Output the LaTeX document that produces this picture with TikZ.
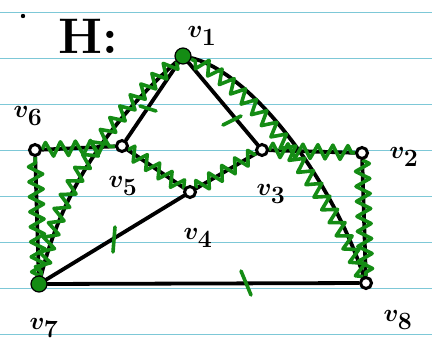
\documentclass[tikz,border=0pt]{standalone}
\usetikzlibrary{decorations.pathmorphing}
\definecolor{ruled}{RGB}{125,200,215}
\definecolor{pen}{RGB}{20,140,20}
\pgfdeclarelayer{paper}
\pgfdeclarelayer{edges}
\pgfsetlayers{paper,edges,main}
\begin{document}
\begin{tikzpicture}[x=1pt,y=-1pt,
  vtx/.style={circle,draw=black,fill=white,line width=3pt,inner sep=0pt,minimum size=11pt},
  gvtx/.style={circle,draw=black,fill=pen,line width=1.2pt,inner sep=0pt,minimum size=16pt},
  edge/.style={line width=3.8pt,black,line cap=round},
  zz/.style={draw=pen,line width=3.6pt,line join=round,decorate,decoration={zigzag,segment length=15pt,amplitude=7pt}},
  tickmark/.style={draw=pen,line width=3.6pt,line cap=round},
  lbl/.style={font=\fontsize{38}{38}\selectfont\boldmath},
  ruleline/.style={draw=ruled,line width=1.6pt}]
\useasboundingbox (0,0) rectangle (432,354);
\begin{pgfonlayer}{paper}
\fill[white] (0,0) rectangle (432,354);
\foreach \y in {12.5,58.5,104.5,150.5,196.5,242.5,288.5,334.5}
  \draw[ruleline] (0,\y) -- (432,\y);
\end{pgfonlayer}

% vertices
\node[gvtx] (v1) at (183,56) {};
\node[vtx] (v6) at (35,150) {};
\node[vtx] (v5) at (122,146) {};
\node[vtx] (v4) at (190,192) {};
\node[vtx] (v3) at (262,150) {};
\node[vtx] (v2) at (362,153) {};
\node[gvtx] (v7) at (39,284) {};
\node[vtx] (v8) at (366,283) {};

% labels
\node[lbl] (l1) at (202,36) {$v_1$};
\node[lbl] (l6) at (28,116) {$v_6$};
\node[lbl] (l5) at (123,186) {$v_5$};
\node[lbl] (l4) at (198,238) {$v_4$};
\node[lbl] (l3) at (271,194) {$v_3$};
\node[lbl] (l2) at (404,157) {$v_2$};
\node[lbl] (l7) at (44,328) {$v_7$};
\node[lbl] (l8) at (398,320) {$v_8$};
\node[font=\fontsize{50}{50}\selectfont\bfseries] (title) at (88,36) {H:};
\fill[black] (23,16) circle (2.2pt);

\begin{pgfonlayer}{edges}
% black edges
\draw[edge] (v1) .. controls (100,130) and (60,200) .. (v7);
\draw[edge] (v1) -- (v5);
\draw[edge] (v1) -- (v3);
\draw[edge] (v1) .. controls (250,72) and (330,175) .. (v8);
\draw[edge] (v6) -- (v7);
\draw[edge] (v6) -- (v5);
\draw[edge] (v5) -- (v4);
\draw[edge] (v4) -- (v3);
\draw[edge] (v3) -- (v2);
\draw[edge] (v2) -- (v8);
\draw[edge] (v7) -- (v4);
\draw[edge] (v7) -- (v8);
% green zigzags (cycle)
\draw[zz] (v1) .. controls (96,128) and (56,200) .. (v7);
\draw[zz] (v7) -- (v6);
\draw[zz] (v6) -- (v5);
\draw[zz] (v5) -- (v4);
\draw[zz] (v4) -- (v3);
\draw[zz] (v3) -- (v2);
\draw[zz] (v2) -- (v8);
\draw[zz] (v8) .. controls (323,180) and (244,80) .. (v1);
% green ticks
\coordinate (a1) at (140,106); \coordinate (b1) at (156,111);
\coordinate (a2) at (223,125); \coordinate (b2) at (241,116);
\coordinate (a3) at (115,227); \coordinate (b3) at (113,252);
\coordinate (a4) at (241,271); \coordinate (b4) at (251,295);
\draw[tickmark] (a1) -- (b1);
\draw[tickmark] (a2) -- (b2);
\draw[tickmark] (a3) -- (b3);
\draw[tickmark] (a4) -- (b4);
\end{pgfonlayer}
\end{tikzpicture}
\end{document}
